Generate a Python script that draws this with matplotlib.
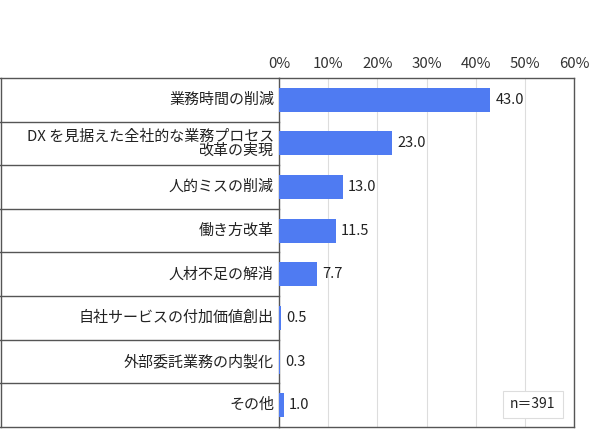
import matplotlib
matplotlib.use("Agg")
import matplotlib.pyplot as plt
from matplotlib.lines import Line2D

plt.rcParams['font.family'] = ['Noto Sans CJK JP', 'DejaVu Sans']

# data
labels = ["業務時間の削減", "DX を見据えた全社的な業務プロセス\n改革の実現", "人的ミスの削減",
          "働き方改革", "人材不足の解消", "自社サービスの付加価値創出",
          "外部委託業務の内製化", "その他"]
values = [43.0, 23.0, 13.0, 11.5, 7.7, 0.5, 0.3, 1.0]
ticks = [0, 10, 20, 30, 40, 50, 60]
tick_labels = ["0%", "10%", "20%", "30%", "40%", "50%", "60%"]
n_text = "n＝391"

BAR = "#4F7BF2"
LINE = "#555555"

fig = plt.figure(figsize=(5.9, 4.43), dpi=100)
ax = fig.add_axes([279/590, 1 - 427/443, 295/590, 349/443])

y = list(range(len(labels)))
ax.barh(y, values, height=0.55, color=BAR, zorder=3)
ax.set_ylim(len(labels) - 0.5, -0.5)
ax.set_xlim(0, 60)

ax.xaxis.tick_top()
ax.set_xticks(ticks)
ax.set_xticklabels(tick_labels, fontsize=10.8, color="#333333")
ax.tick_params(axis="x", length=0, pad=5)
ax.set_yticks([])
ax.grid(axis="x", color="#DDDDDD", linewidth=0.8, zorder=0)
for s in ax.spines.values():
    s.set_color(LINE)
    s.set_linewidth(1.0)

# value labels
for yi, v in zip(y, values):
    ax.text(v + 1.0, yi, f"{v:.1f}", va="center", ha="left", fontsize=10.5, color="#222222")

# left side table with category labels
left = -279/295
trans = ax.get_yaxis_transform()
for b in [i - 0.5 for i in range(len(labels) + 1)]:
    ax.plot([left, 0], [b, b], transform=trans, color=LINE, linewidth=1.0, clip_on=False)
fig.add_artist(Line2D([0.5/590, 0.5/590], [1 - 427/443, 1 - 78/443], color=LINE, linewidth=1.0))
for yi, lab in zip(y, labels):
    ax.text(-0.017, yi, lab, transform=trans, ha="right", va="center", fontsize=10.8,
            color="#222222", linespacing=1.0, multialignment="right")

# n box
ax.text(0.861, 0.0645, n_text, transform=ax.transAxes, ha="center", va="center", fontsize=10,
        color="#222222", zorder=5,
        bbox=dict(boxstyle="square,pad=0.5", facecolor="white", edgecolor="#DDDDDD", linewidth=0.8))

fig.savefig("out.png", dpi=100)
